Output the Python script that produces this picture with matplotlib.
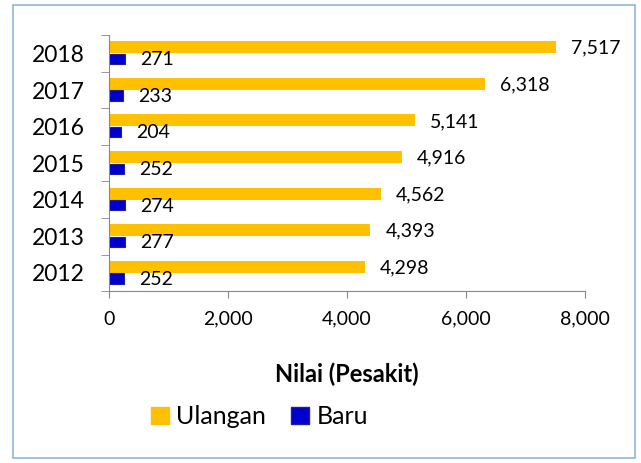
import matplotlib
matplotlib.use("Agg")
import matplotlib.pyplot as plt
import numpy as np
from matplotlib.patches import Rectangle

years = ["2012", "2013", "2014", "2015", "2016", "2017", "2018"]
ulangan = [4298, 4393, 4562, 4916, 5141, 6318, 7517]
baru = [252, 277, 274, 252, 204, 233, 271]

ORANGE = "#FFC000"
BLUE = "#0000CC"
BLUE_EDGE = "#1F1F9F"
FONT = ["Lato", "DejaVu Sans"]

plt.rcParams["font.family"] = FONT

fig = plt.figure(figsize=(6.41, 4.63), dpi=100, facecolor="white")
fig.patches.append(Rectangle((0.021, 0.011), 0.969, 0.978, transform=fig.transFigure,
                             fill=False, edgecolor="#8DB4E2", lw=1.2))

ax = fig.add_axes((0.170, 0.371, 0.743, 0.553))
y = np.arange(len(years))
h = 0.33
ax.barh(y + 0.17, ulangan, height=h, color=ORANGE)
ax.barh(y - 0.15, baru, height=h * 0.85, color=BLUE, edgecolor=BLUE_EDGE, lw=0.8)

for yi, v in zip(y, ulangan):
    ax.text(v + 250, yi + 0.14, f"{v:,}", ha="left", va="center", fontsize=14, color="black")
for yi, v in zip(y, baru):
    ax.text(v + 250, yi - 0.17, f"{v:,}", ha="left", va="center", fontsize=14, color="black")

ax.set_xlim(0, 8000)
ax.set_ylim(-0.5, len(years) - 0.5)
ax.set_xticks([0, 2000, 4000, 6000, 8000])
ax.set_xticklabels([f"{t:,}" for t in [0, 2000, 4000, 6000, 8000]], fontsize=14)
ax.set_yticks(y)
ax.set_yticklabels(years, fontsize=16.5)
ax.set_yticks(np.arange(-0.5, len(years), 1), minor=True)
ax.tick_params(axis="y", which="major", length=0, pad=17.5)
ax.tick_params(axis="y", which="minor", length=6, color="#888888")
ax.tick_params(axis="x", length=5, color="#888888", pad=9)
for s in ["top", "right"]:
    ax.spines[s].set_visible(False)
for s in ["left", "bottom"]:
    ax.spines[s].set_color("#888888")

ax.set_xlabel("Nilai (Pesakit)", fontsize=17, fontweight="bold", labelpad=25)

handles = [Rectangle((0, 0), 1, 1, color=ORANGE),
           Rectangle((0, 0), 1, 1, facecolor=BLUE, edgecolor=BLUE_EDGE)]
fig.legend(handles, ["Ulangan", "Baru"], loc="center", bbox_to_anchor=(0.405, 0.10), ncol=2,
           frameon=False, fontsize=18, handlelength=0.7, handleheight=0.7, handletextpad=0.3,
           columnspacing=1.0)

fig.savefig("out.png", dpi=100, facecolor="white")
